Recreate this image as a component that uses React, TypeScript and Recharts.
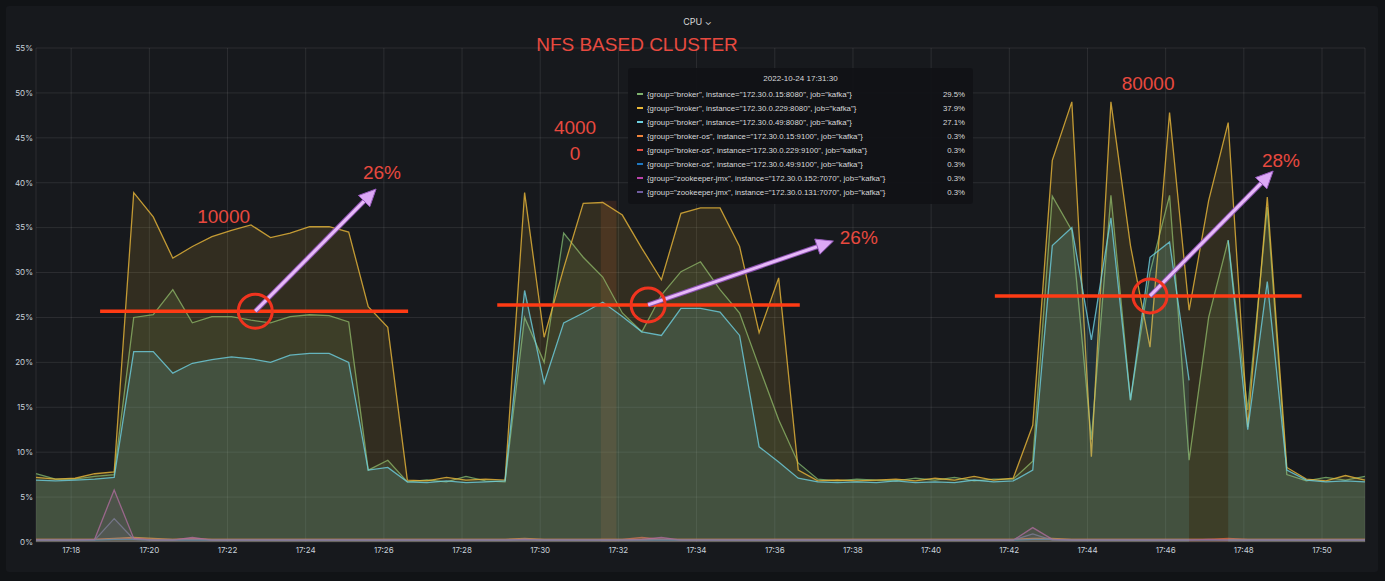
import {
  AreaChart,
  Area,
  XAxis,
  YAxis,
  CartesianGrid,
  ReferenceLine,
  ReferenceDot,
  ReferenceArea,
} from 'recharts';

// sample times, minutes after 17:00 (30s step)
const times = [
  17.1, 17.6, 18.1, 18.6, 19.1, 19.6, 20.1, 20.6, 21.1, 21.6, 22.1, 22.6, 23.1, 23.6, 24.1, 24.6, 25.1,
  25.6, 26.1, 26.6, 27.1, 27.6, 28.1, 28.6, 29.1, 29.6, 30.1, 30.6, 31.1, 31.6, 32.1, 32.6, 33.1, 33.6,
  34.1, 34.6, 35.1, 35.6, 36.1, 36.6, 37.1, 37.6, 38.1, 38.6, 39.1, 39.6, 40.1, 40.6, 41.1, 41.6, 42.1,
  42.6, 43.1, 43.6, 44.1, 44.6, 45.1, 45.6, 46.1, 46.6, 47.1, 47.6, 48.1, 48.6, 49.1, 49.6, 50.1, 50.6,
  51.1,
];

const broker229 = [
  7.2, 7.0, 7.1, 7.6, 7.8, 38.9, 36.2, 31.6, 32.9, 34.0, 34.7, 35.3, 33.9, 34.4, 35.1, 35.1, 34.5,
  26.2, 23.9, 6.9, 6.8, 7.2, 6.9, 7.0, 6.9, 38.9, 22.8, 30.5, 37.7, 37.8, 36.4, 32.7, 29.2, 36.6,
  37.2, 37.2, 32.9, 23.3, 29.4, 8.0, 6.8, 6.9, 6.8, 6.9, 7.0, 6.8, 7.1, 6.9, 7.3, 6.9, 7.1,
  13.0, 42.5, 49.0, 9.5, 49.0, 33.0, 21.7, 47.8, 25.8, 38.0, 46.7, 12.8, 38.4, 8.3, 7.0, 6.8, 7.4,
  6.9,
];

const broker15 = [
  7.6, 7.0, 7.0, 7.3, 7.5, 25.0, 25.3, 28.1, 24.4, 25.1, 25.1, 24.7, 24.4, 25.1, 25.3, 25.2, 24.5,
  8.0, 9.1, 6.7, 6.9, 6.7, 7.3, 6.8, 6.7, 25.0, 20.0, 34.4, 31.7, 29.5, 25.5, 23.4, 27.5, 30.1,
  31.2, 28.1, 25.5, 19.5, 13.6, 8.8, 7.0, 6.8, 7.0, 6.9, 6.8, 7.1, 6.9, 7.2, 6.8, 7.0, 7.0,
  9.0, 38.5, 34.7, 11.4, 38.6, 15.8, 30.0, 38.6, 9.1, 25.0, 33.6, 14.7, 37.3, 7.5, 6.8, 7.2, 6.9,
  7.3,
];

const broker49 = [
  6.9, 6.8, 6.9, 7.0, 7.2, 21.2, 21.2, 18.8, 19.9, 20.3, 20.6, 20.4, 20.0, 20.8, 21.0, 21.0, 20.0,
  8.0, 8.3, 6.7, 6.6, 6.8, 6.6, 6.7, 6.8, 28.0, 17.7, 24.4, 25.5, 26.7, 25.1, 23.4, 23.0, 26.0,
  26.0, 25.6, 23.0, 10.6, 8.9, 7.1, 6.7, 6.6, 6.7, 6.6, 6.8, 6.6, 6.7, 6.6, 6.9, 6.7, 6.8,
  8.0, 33.0, 35.0, 22.5, 36.1, 15.8, 31.7, 33.4, 18.0, null, 33.6, 12.5, 29.0, 8.0, 6.9, 6.7, 6.8,
  6.7,
];

const os15 = [
  0.3, 0.3, 0.3, 0.3, 0.4, 0.5, 0.4, 0.3, 0.3, 0.3, 0.3, 0.3, 0.3, 0.3, 0.3, 0.3, 0.3,
  0.3, 0.3, 0.3, 0.3, 0.3, 0.3, 0.3, 0.3, 0.4, 0.3, 0.3, 0.3, 0.3, 0.3, 0.3, 0.3, 0.3,
  0.3, 0.3, 0.3, 0.3, 0.3, 0.3, 0.3, 0.3, 0.3, 0.3, 0.3, 0.3, 0.3, 0.3, 0.3, 0.3, 0.3,
  0.4, 0.4, 0.3, 0.3, 0.3, 0.3, 0.3, 0.3, 0.3, 0.3, 0.3, 0.3, 0.3, 0.3, 0.3, 0.3, 0.3,
  0.3,
];

const os229 = [
  0.3, 0.3, 0.3, 0.3, 0.3, 0.4, 0.3, 0.3, 0.4, 0.3, 0.3, 0.3, 0.3, 0.3, 0.3, 0.3, 0.3,
  0.3, 0.3, 0.3, 0.3, 0.3, 0.3, 0.3, 0.3, 0.3, 0.3, 0.3, 0.3, 0.3, 0.3, 0.5, 0.3, 0.3,
  0.3, 0.3, 0.3, 0.3, 0.3, 0.3, 0.3, 0.3, 0.3, 0.3, 0.3, 0.3, 0.3, 0.3, 0.3, 0.3, 0.3,
  0.3, 0.3, 0.3, 0.3, 0.3, 0.3, 0.3, 0.3, 0.3, 0.3, 0.4, 0.3, 0.3, 0.3, 0.3, 0.3, 0.3,
  0.3,
];

const os49 = [
  0.2, 0.2, 0.2, 0.2, 0.3, 0.3, 0.2, 0.2, 0.2, 0.2, 0.2, 0.2, 0.2, 0.2, 0.2, 0.2, 0.2,
  0.2, 0.2, 0.2, 0.2, 0.2, 0.2, 0.2, 0.2, 0.3, 0.2, 0.2, 0.2, 0.2, 0.2, 0.2, 0.2, 0.2,
  0.2, 0.2, 0.2, 0.2, 0.2, 0.2, 0.2, 0.2, 0.2, 0.2, 0.2, 0.2, 0.2, 0.2, 0.2, 0.2, 0.2,
  0.3, 0.3, 0.2, 0.2, 0.2, 0.2, 0.2, 0.2, 0.2, 0.2, 0.2, 0.2, 0.2, 0.2, 0.2, 0.2, 0.2,
  0.2,
];

const zk152 = [
  0.2, 0.2, 0.2, 0.3, 5.8, 0.4, 0.2, 0.2, 0.5, 0.2, 0.2, 0.2, 0.2, 0.2, 0.2, 0.2, 0.2,
  0.2, 0.2, 0.2, 0.2, 0.2, 0.2, 0.2, 0.2, 0.3, 0.2, 0.2, 0.2, 0.2, 0.2, 0.3, 0.5, 0.2,
  0.2, 0.2, 0.2, 0.2, 0.2, 0.2, 0.2, 0.2, 0.2, 0.2, 0.2, 0.2, 0.2, 0.2, 0.2, 0.2, 0.2,
  1.6, 0.3, 0.2, 0.2, 0.2, 0.2, 0.2, 0.2, 0.2, 0.3, 0.2, 0.2, 0.2, 0.2, 0.2, 0.2, 0.2,
  0.2,
];

const zk131 = [
  0.2, 0.2, 0.2, 0.2, 2.6, 0.3, 0.2, 0.2, 0.3, 0.2, 0.2, 0.2, 0.2, 0.2, 0.2, 0.2, 0.2,
  0.2, 0.2, 0.2, 0.2, 0.2, 0.2, 0.2, 0.2, 0.2, 0.2, 0.2, 0.2, 0.2, 0.2, 0.2, 0.3, 0.2,
  0.2, 0.2, 0.2, 0.2, 0.2, 0.2, 0.2, 0.2, 0.2, 0.2, 0.2, 0.2, 0.2, 0.2, 0.2, 0.2, 0.2,
  0.9, 0.2, 0.2, 0.2, 0.2, 0.2, 0.2, 0.2, 0.2, 0.2, 0.2, 0.2, 0.2, 0.2, 0.2, 0.2, 0.2,
  0.2,
];

const xTicks = [18, 20, 22, 24, 26, 28, 30, 32, 34, 36, 38, 40, 42, 44, 46, 48, 50];
const yTicks = [0, 5, 10, 15, 20, 25, 30, 35, 40, 45, 50, 55];

const series = [
  { key: 'os15', values: os15, color: '#EF843C', label: '{group="broker-os", instance="172.30.0.15:9100", job="kafka"}' },
  { key: 'os229', values: os229, color: '#E24D42', label: '{group="broker-os", instance="172.30.0.229:9100", job="kafka"}' },
  { key: 'os49', values: os49, color: '#1F78C1', label: '{group="broker-os", instance="172.30.0.49:9100", job="kafka"}' },
  { key: 'zk152', values: zk152, color: '#BA43A9', label: '{group="zookeeper-jmx", instance="172.30.0.152:7070", job="kafka"}' },
  { key: 'zk131', values: zk131, color: '#705DA0', label: '{group="zookeeper-jmx", instance="172.30.0.131:7070", job="kafka"}' },
  { key: 'b15', values: broker15, color: '#7EB26D', label: '{group="broker", instance="172.30.0.15:8080", job="kafka"}' },
  { key: 'b229', values: broker229, color: '#EAB839', label: '{group="broker", instance="172.30.0.229:8080", job="kafka"}' },
  { key: 'b49', values: broker49, color: '#6ED0E0', label: '{group="broker", instance="172.30.0.49:8080", job="kafka"}' },
];

// tooltip snapshot at 17:31:30
const tooltipTime = '2022-10-24 17:31:30';
const tooltipOrder = ['b15', 'b229', 'b49', 'os15', 'os229', 'os49', 'zk152', 'zk131'];
const tooltipValues = ['29.5%', '37.9%', '27.1%', '0.3%', '0.3%', '0.3%', '0.3%', '0.3%'];

// hand drawn markup on the screenshot (time in minutes, value in %)
const levelLines = [
  { from: 18.74, to: 26.62, y: 25.7 },
  { from: 28.9, to: 36.64, y: 26.4 },
  { from: 41.63, to: 49.48, y: 27.4 },
];
const circles = [
  { x: 22.71, y: 25.7 },
  { x: 32.76, y: 26.4 },
  { x: 45.6, y: 27.4 },
];
const arrows = [
  { x1: 22.71, y1: 25.7, x2: 25.8, y2: 39.3 },
  { x1: 32.76, y1: 26.4, x2: 37.5, y2: 33.5 },
  { x1: 45.6, y1: 27.4, x2: 48.75, y2: 41.3 },
];
const notes = [
  { x: 21.9, y: 36.2, text: '10000' },
  { x: 25.95, y: 41.1, text: '26%' },
  { x: 30.89, y: 46.1, text: '4000' },
  { x: 30.89, y: 43.3, text: '0' },
  { x: 38.15, y: 33.9, text: '26%' },
  { x: 45.55, y: 51.1, text: '80000' },
  { x: 48.95, y: 42.5, text: '28%' },
];

const data = times.map((t, i) => {
  const row: any = { t };
  series.forEach((s) => {
    row[s.key] = s.values[i];
  });
  return row;
});

const fmtTime = (v: number) => `17:${String(v).padStart(2, '0')}`;

const ArrowShape = (props: any) => {
  const { x1, y1, x2, y2 } = props;
  if (x1 == null) return null;
  const ang = Math.atan2(y2 - y1, x2 - x1);
  const len = 17;
  const w = 8;
  const bx = x2 - len * Math.cos(ang);
  const by = y2 - len * Math.sin(ang);
  const pts = [
    `${x2},${y2}`,
    `${bx + w * Math.sin(ang)},${by - w * Math.cos(ang)}`,
    `${bx - w * Math.sin(ang)},${by + w * Math.cos(ang)}`,
  ].join(' ');
  return (
    <g>
      <line x1={x1} y1={y1} x2={bx} y2={by} stroke="#8a4fb0" strokeWidth={5} />
      <line x1={x1} y1={y1} x2={bx} y2={by} stroke="#e6b8f7" strokeWidth={3} />
      <polygon points={pts} fill="#dca8f5" stroke="#9a5cc0" strokeWidth={1} />
    </g>
  );
};

const NoteShape = (text: string) => (props: any) => (
  <text
    x={props.cx}
    y={props.cy}
    textAnchor="middle"
    dominantBaseline="central"
    fill="#e8493f"
    fontSize={19}
    fontFamily="Liberation Sans, Arial, sans-serif"
  >
    {text}
  </text>
);

const App = () => {
  return (
    <div
      style={{
        position: 'relative',
        width: 1385,
        height: 581,
        background: '#111316',
        overflow: 'hidden',
        fontFamily: 'Inter, "Noto Sans", sans-serif',
      }}
    >
      <style>{'body{margin:0;background:#111316;}'}</style>
      <div
        style={{
          position: 'absolute',
          left: 6,
          top: 6,
          width: 1372,
          height: 566,
          background: '#17191d',
          borderRadius: 3,
        }}
      />
      <div
        style={{
          position: 'absolute',
          top: 16,
          left: 5,
          width: 1385,
          textAlign: 'center',
          color: '#d8d9da',
          fontSize: 9,
        }}
      >
        CPU ⌄
      </div>
      <div
        style={{
          position: 'absolute',
          top: 34,
          left: 487,
          width: 300,
          textAlign: 'center',
          color: '#e8493f',
          fontSize: 19,
          fontFamily: 'Liberation Sans, Arial, sans-serif',
        }}
      >
        NFS BASED CLUSTER
      </div>

      <div style={{ position: 'absolute', left: 0, top: 0 }}>
        <AreaChart
          width={1385}
          height={581}
          data={data}
          margin={{ top: 48, right: 20, left: 6, bottom: 9 }}
        >
          <CartesianGrid stroke="rgba(255,255,255,0.09)" />
          <XAxis
            dataKey="t"
            type="number"
            domain={[17.1, 51.1]}
            ticks={xTicks}
            tickFormatter={fmtTime}
            axisLine={false}
            tickLine={false}
            tickSize={0}
            tickMargin={5}
            tick={{ fill: '#c7d0d9', fontSize: 8 }}
            height={30}
          />
          <YAxis
            type="number"
            domain={[0, 55]}
            ticks={yTicks}
            tickFormatter={(v: number) => `${v}%`}
            axisLine={false}
            tickLine={false}
            tickSize={0}
            tickMargin={3}
            width={30}
            tick={{ fill: '#c7d0d9', fontSize: 8 }}
          />
          <ReferenceArea x1={31.55} x2={31.95} y1={0} y2={38} fill="#8a4526" fillOpacity={0.25} stroke="none" />
          {series.map((s) => (
            <Area
              key={s.key}
              type="linear"
              dataKey={s.key}
              stroke={s.color}
              strokeOpacity={0.8}
              strokeWidth={1.3}
              fill={s.color}
              fillOpacity={s.key.startsWith('b') ? 0.13 : 0.1}
              dot={false}
              activeDot={false}
              connectNulls={false}
              isAnimationActive={false}
            />
          ))}
          {levelLines.map((l, i) => (
            <ReferenceLine
              key={`l${i}`}
              segment={[
                { x: l.from, y: l.y },
                { x: l.to, y: l.y },
              ]}
              stroke="#ff3b14"
              strokeWidth={3.5}
            />
          ))}
          {circles.map((c, i) => (
            <ReferenceDot
              key={`c${i}`}
              x={c.x}
              y={c.y}
              r={17}
              fill="none"
              stroke="#f0341f"
              strokeWidth={3}
            />
          ))}
          {arrows.map((a, i) => (
            <ReferenceLine
              key={`a${i}`}
              segment={[
                { x: a.x1, y: a.y1 },
                { x: a.x2, y: a.y2 },
              ]}
              stroke="#e6b8f7"
              strokeWidth={3}
              shape={ArrowShape}
            />
          ))}
          {notes.map((n, i) => (
            <ReferenceDot key={`n${i}`} x={n.x} y={n.y} r={1} shape={NoteShape(n.text)} />
          ))}
        </AreaChart>
      </div>

      <div
        style={{
          position: 'absolute',
          left: 628,
          top: 68,
          width: 345,
          height: 136,
          background: 'rgba(17,18,22,0.94)',
          borderRadius: 3,
          color: '#d8d9da',
          fontSize: 7.8,
          fontFamily: '"Liberation Sans", Arial, sans-serif',
        }}
      >
        <div style={{ textAlign: 'center', marginTop: 6, marginBottom: 4, fontSize: 8 }}>{tooltipTime}</div>
        {tooltipOrder.map((k, i) => {
          const s = series.find((x) => x.key === k)!;
          return (
            <div
              key={k}
              style={{ display: 'flex', alignItems: 'center', height: 14, paddingLeft: 9, paddingRight: 8 }}
            >
              <span style={{ width: 6, height: 2, background: s.color, marginRight: 4, display: 'inline-block' }} />
              <span style={{ flex: 1, whiteSpace: 'nowrap' }}>{s.label}</span>
              <span>{tooltipValues[i]}</span>
            </div>
          );
        })}
      </div>
    </div>
  );
};

export default App;
